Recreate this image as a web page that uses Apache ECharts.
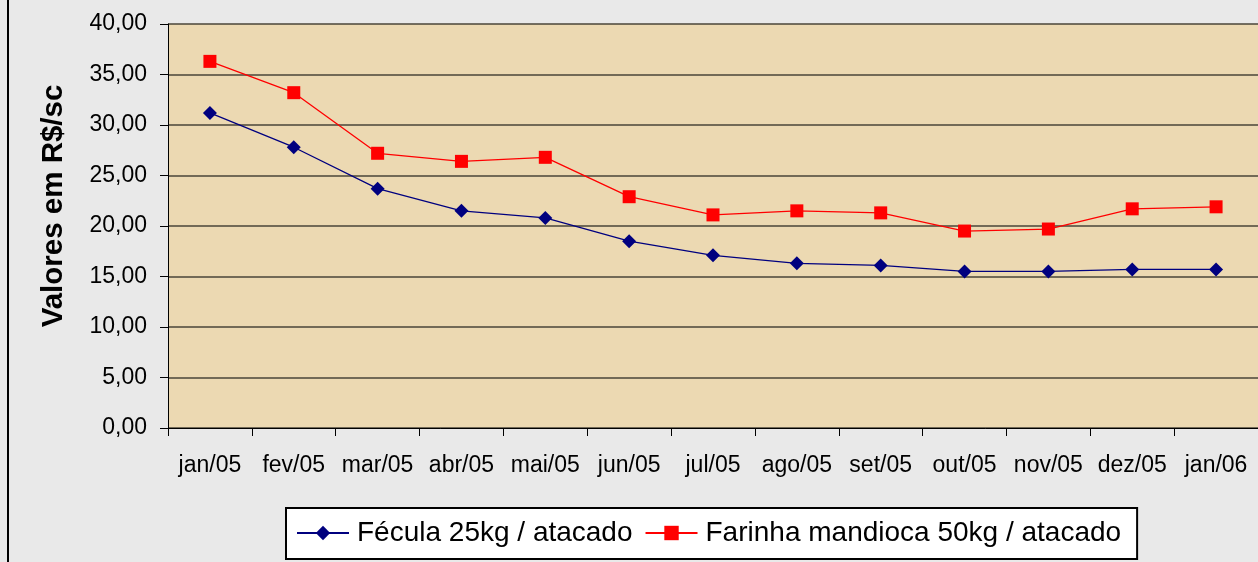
<!DOCTYPE html>
<html><head><meta charset="utf-8">
<script src="https://cdn.jsdelivr.net/npm/echarts@6/dist/echarts.min.js"></script>
<style>
html,body{margin:0;padding:0;}
#c{width:1258px;height:562px;background:#e9e9e9;}
</style></head>
<body><div id="c"></div>
<script>
const categories = ['jan/05','fev/05','mar/05','abr/05','mai/05','jun/05','jul/05','ago/05','set/05','out/05','nov/05','dez/05','jan/06'];
const fecula = [31.2,27.8,23.7,21.5,20.8,18.5,17.1,16.3,16.1,15.5,15.5,15.7,15.7];
const farinha = [36.3,33.2,27.2,26.4,26.8,22.9,21.1,21.5,21.3,19.5,19.7,21.7,21.9];
const seriesNames = ['Fécula 25kg / atacado','Farinha mandioca 50kg / atacado'];
const yTitle = 'Valores em R$/sc';

const FONT = 'Liberation Sans, Arial, sans-serif';
const chart = echarts.init(document.getElementById('c'), null, {renderer:'canvas'});
const fmt = v => v.toFixed(2).replace('.', ',');
chart.setOption({
  animation:false,
  backgroundColor:'#e9e9e9',
  textStyle:{fontFamily:FONT},
  graphic:[
    {type:'rect', shape:{x:7,y:0,width:2,height:562}, style:{fill:'#000'}, z:0},
    {type:'text', x:54, y:206, rotation:Math.PI/2,
     style:{text:yTitle, font:'bold 29.5px ' + FONT, fill:'#000', align:'center', verticalAlign:'middle'}}
  ],
  grid:{left:168, top:24, right:-2, bottom:134, show:true, backgroundColor:'#ecd9b2', borderWidth:0},
  legend:{
    left:286, top:508,
    padding:[11,16,12,10],
    backgroundColor:'#fff', borderColor:'#000', borderWidth:2, borderRadius:0,
    itemWidth:52, itemHeight:18, itemGap:12,
    textStyle:{fontSize:28, color:'#000', fontFamily:FONT, padding:[0,0,0,3]},
    data:seriesNames
  },
  xAxis:{
    type:'category', data:categories, boundaryGap:true,
    axisLine:{lineStyle:{color:'#000', width:1}},
    axisTick:{show:true, length:8, lineStyle:{color:'#000'}},
    axisLabel:{fontSize:23, color:'#000', margin:26, interval:0}
  },
  yAxis:{
    type:'value', min:0, max:40, interval:5,
    axisLine:{show:true, lineStyle:{color:'#000', width:1}},
    axisTick:{show:true, length:8, lineStyle:{color:'#000'}},
    axisLabel:{fontSize:23, color:'#000', margin:21, formatter:v=>fmt(v)},
    splitLine:{lineStyle:{color:'#4a4538', width:1.5}}
  },
  series:[
    {name:seriesNames[0], type:'line', data:fecula, symbol:'diamond', symbolSize:14,
     lineStyle:{color:'#00007f', width:1.3}, itemStyle:{color:'#00007f'}, z:3},
    {name:seriesNames[1], type:'line', data:farinha, symbol:'rect', symbolSize:13,
     lineStyle:{color:'#ff0000', width:1.3}, itemStyle:{color:'#ff0000'}, z:3}
  ]
});
</script></body></html>
